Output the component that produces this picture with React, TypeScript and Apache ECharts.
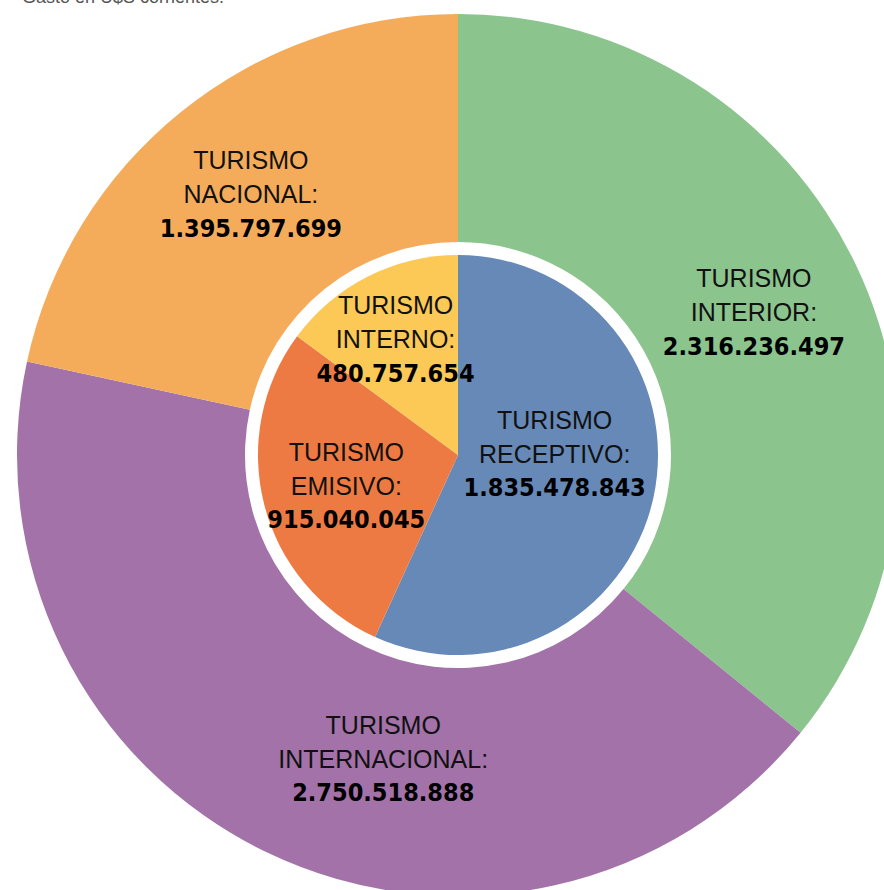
import React, { useEffect, useRef } from "react";
import * as echarts from "echarts";

const outerCategories = ["Turismo Interior", "Turismo Internacional", "Turismo Nacional"];
const outerValues = [2316236497, 2750518888, 1395797699];
const outerColors = ["#8CC48E", "#A272A8", "#F5AC5A"];

const innerCategories = ["Turismo Receptivo", "Turismo Emisivo", "Turismo Interno"];
const innerValues = [1835478843, 915040045, 480757654];
const innerColors = ["#6789B7", "#EE7A43", "#FCC957"];

const subtitle = "Gasto en U$S corrientes.";

// label nudges (px) relative to the library's inside-label position
const outerNudge = [[-2, -1], [68, 6], [0, -4]];
const innerNudge = [[-4, -23], [-12, 5], [-16, -24]];

const fmt = (v: number) => String(v).replace(/\B(?=(\d{3})+(?!\d))/g, ".");

const labelFormatter = (p: any) => {
  const parts = String(p.name).toUpperCase().split(" ");
  return `{n|${parts[0]}}\n{n|${parts.slice(1).join(" ")}:}\n{v|${fmt(p.value)}}`;
};

const rich = {
  n: {
    fontFamily: "'Liberation Sans', Arial, sans-serif",
    fontSize: 25,
    fontWeight: "normal",
    color: "#111",
    lineHeight: 34,
  },
  v: {
    fontFamily: "'DejaVu Sans Condensed', 'DejaVu Sans', sans-serif",
    fontSize: 25,
    fontWeight: "bold",
    color: "#000",
    lineHeight: 34,
  },
};

export default function App() {
  const ref = useRef<HTMLDivElement>(null);
  useEffect(() => {
    if (!ref.current) return;
    const chart = echarts.init(ref.current, undefined, { renderer: "svg" });
    chart.setOption({
      animation: false,
      backgroundColor: "#ffffff",
      graphic: [
        {
          type: "text",
          left: 22,
          top: -12,
          style: {
            text: subtitle,
            fontFamily: "'Liberation Sans', Arial, sans-serif",
            fontSize: 18,
            fill: "#555",
          },
        },
      ],
      series: [
        {
          type: "pie",
          center: [458, 455],
          radius: [213, 441],
          startAngle: 90,
          clockwise: true,
          silent: true,
          label: { show: true, position: "inside", formatter: labelFormatter, rich, align: "center" },
          labelLine: { show: false },
          labelLayout: (params: any) => ({ dx: outerNudge[params.dataIndex][0], dy: outerNudge[params.dataIndex][1] }),
          data: outerCategories.map((name, i) => ({
            name,
            value: outerValues[i],
            itemStyle: { color: outerColors[i] },
          })),
        },
        {
          type: "pie",
          center: [458, 455],
          radius: [0, 200],
          startAngle: 90,
          clockwise: true,
          silent: true,
          label: { show: true, position: "inside", formatter: labelFormatter, rich, align: "center" },
          labelLine: { show: false },
          labelLayout: (params: any) => ({ dx: innerNudge[params.dataIndex][0], dy: innerNudge[params.dataIndex][1] }),
          data: innerCategories.map((name, i) => ({
            name,
            value: innerValues[i],
            itemStyle: { color: innerColors[i] },
          })),
        },
      ],
    });
    return () => chart.dispose();
  }, []);
  return (
    <div
      ref={ref}
      style={{ position: "fixed", left: 0, top: 0, width: 884, height: 890 }}
    />
  );
}
